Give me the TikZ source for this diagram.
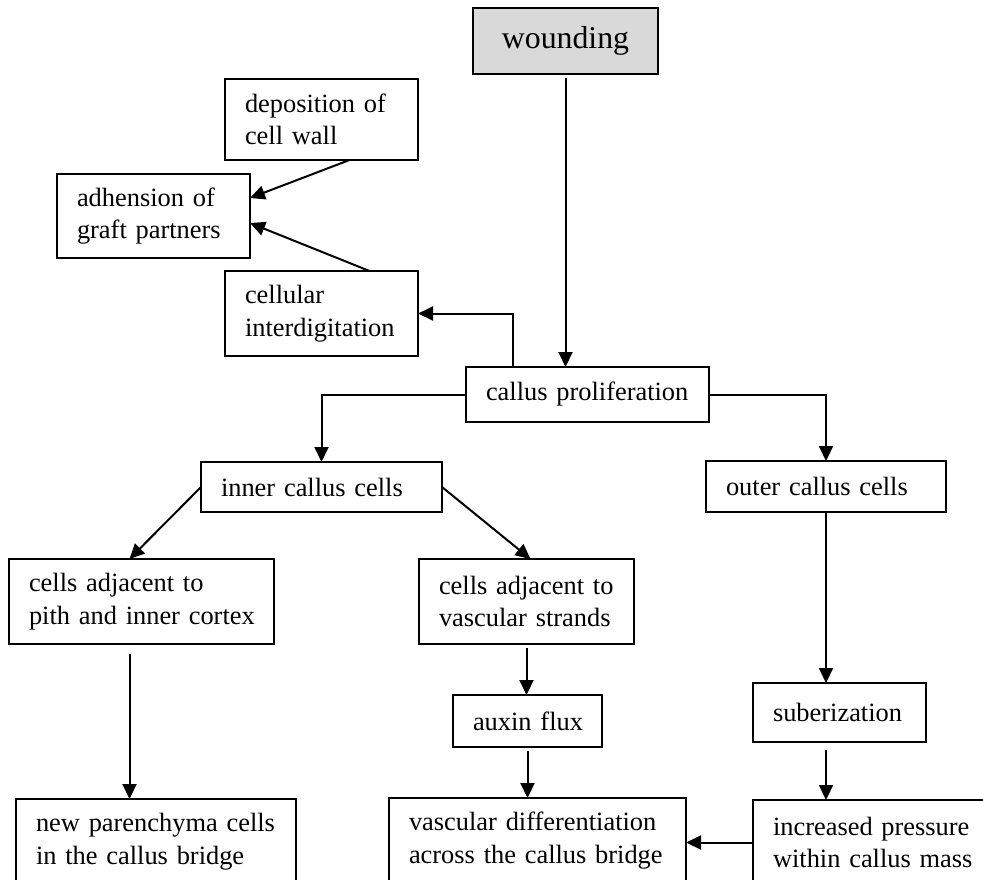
\documentclass[tikz,border=0pt]{standalone}
\usepackage{fontspec}
\setmainfont{Liberation Serif}
\usetikzlibrary{arrows.meta}

\tikzset{
  box/.style={draw, line width=0.9pt, anchor=north west, align=left, inner xsep=10pt,
    inner ysep=0pt, outer sep=0pt, font=\fontsize{13.2}{16.3}\selectfont},
  arr/.style={line width=1pt, -{Triangle[length=7.5pt,width=7pt]}}
}

\begin{document}
\begin{tikzpicture}[x=0.5pt,y=-0.5pt]
        \useasboundingbox (0,0) rectangle (983,879);
        \clip (0,0) rectangle (983,879);
        % boxes
        \node[box, align=center, text width=72.5pt, minimum height=33pt, fill={rgb,255:red,217;green,217;blue,217},
          font=\fontsize{15.9}{19}\selectfont] (wound) at (473,8) {wounding};
        \node[box, text width=76.5pt, minimum height=40.5pt] (depo) at (225,79) {\mbox{deposition of}\\\mbox{cell wall}};
        \node[box, text width=76.5pt, minimum height=42pt] (adh) at (57,174) {\mbox{adhension of}\\\mbox{graft partners}};
        \node[box, text width=76.5pt, minimum height=42.5pt] (cell) at (225,271) {cellular\\\mbox{interdigitation}};
        \node[box, text width=101.5pt, minimum height=27.5pt] (callus) at (466,367) {\mbox{callus proliferation}};
        \node[box, text width=100.5pt, minimum height=25pt] (inner) at (201,462) {\mbox{inner callus cells}};
        \node[box, text width=100pt, minimum height=25.5pt] (outer) at (706,461) {\mbox{outer callus cells}};
        \node[box, text width=112.5pt, minimum height=42.5pt] (pith) at (9,559) {\mbox{cells adjacent to}\\\mbox{pith and inner cortex}};
        \node[box, text width=87.5pt, minimum height=42.5pt] (vasc) at (419,559) {\mbox{cells adjacent to}\\\mbox{vascular strands}};
        \node[box, text width=54.5pt, minimum height=26pt] (auxin) at (453,695) {\mbox{auxin flux}};
        \node[box, text width=66.5pt, minimum height=29.5pt] (suber) at (753,683) {suberization};
        \node[box, text width=120pt, minimum height=42.5pt] (newpar) at (16,799) {\mbox{new parenchyma cells}\\\mbox{in the callus bridge}};
        \node[box, text width=128.5pt, minimum height=42.5pt] (vdiff) at (389,798) {\mbox{vascular differentiation}\\\mbox{across the callus bridge}};
        \node[box, text width=100pt, minimum height=42.5pt] (press) at (753,800) {\mbox{increased pressure}\\\mbox{within callus mass}};
        % arrows
        \draw[arr, shorten <=2pt] (wound.south) -- (wound.south |- callus.north);
        \draw[arr] (callus.north west) ++(47,0) |- (cell.east);
        \draw[arr] ([xshift=14pt]depo.south) -- ([yshift=9pt]adh.east);
        \draw[arr] ([xshift=24pt]cell.north) -- ([yshift=-3.5pt]adh.east);
        \draw[arr] (callus.west) -| (inner.north);
        \draw[arr] (callus.east) -| (outer.north);
        \draw[arr] (inner.west) -- ([xshift=-6pt]pith.north);
        \draw[arr] (inner.east) -- ([xshift=2pt]vasc.north);
        \draw[arr, shorten <=5pt] ([xshift=-6pt]pith.south) -- ([xshift=-6pt]pith.south |- newpar.north);
        \draw[arr, shorten <=2pt] (vasc.south) -- (vasc.south |- auxin.north);
        \draw[arr, shorten <=2pt] (auxin.south) -- (auxin.south |- vdiff.north);
        \draw[arr] (outer.south) -- (outer.south |- suber.north);
        \draw[arr, shorten <=4pt] (outer.south |- suber.south) -- (outer.south |- press.north);
        \draw[arr] (press.west) -- (press.west -| vdiff.east);
\end{tikzpicture}
\end{document}
